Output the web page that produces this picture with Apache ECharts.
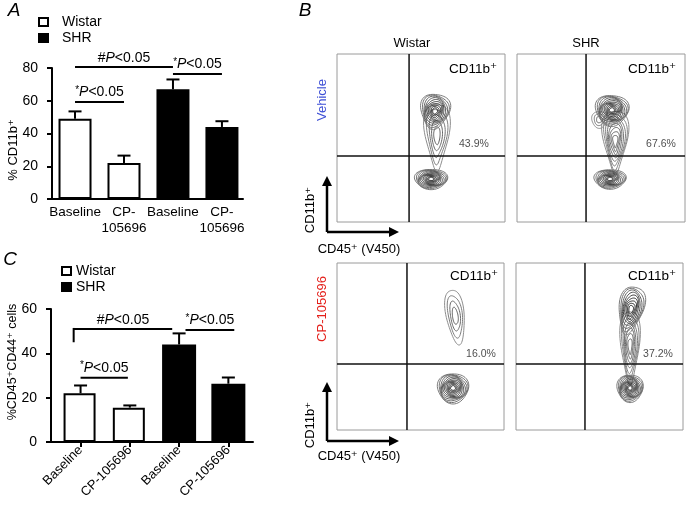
<!DOCTYPE html>
<html><head><meta charset="utf-8">
<script src="https://cdn.jsdelivr.net/npm/echarts@6/dist/echarts.min.js"></script>
<style>html,body{margin:0;padding:0;background:#fff}#c{width:687px;height:507px}</style>
</head><body><div id="c"></div>
<script>
// ---------- DATA ----------
const categoriesA = ['Baseline', 'CP-\n105696', 'Baseline', 'CP-\n105696'];
const categoriesC = ['Baseline', 'CP-105696', 'Baseline', 'CP-105696'];
const groups = ['Wistar', 'SHR'];
const wistarA = [49, 22];      const wistarErrA = [4.5, 4.5];
const shrA = [67, 44];         const shrErrA = [6, 3.5];
const wistarC = [22, 15.5];    const wistarErrC = [3.5, 1];
const shrC = [44, 26.3];       const shrErrC = [5, 2.8];
// significance: [fromX, toX, lineY, dropY|null, prefix]
const sigA = [[0, 2, 80.6, null, '#'], [2, 3, 76.3, null, '*'], [0, 1, 59.2, null, '*']];
const sigC = [[-0.14, 1.86, 51, 45, '#'], [2.13, 3.12, 50.5, null, '*'], [0, 0.96, 29, null, '*']];
// flow panels
const flowCols = ['Wistar', 'SHR'];
const flowRows = ['Vehicle', 'CP-105696'];
const gates = [[42.9, 39.3], [41.1, 39.3], [41.9, 39.5], [41.3, 39.5]];
const pctLabels = ['43.9%', '67.6%', '16.0%', '37.2%'];
const pctPos = [[81.5, 46.4], [85.7, 46.4], [86.2, 45.5], [85, 45.5]];
// contour blobs: [cx, cy, rx, ry, levels, rotationDeg, taper, dark(1)/light(0)]
const contourTL = [[59.5, 51, 7, 20, 5, 0, 0.45, 0], [58.3, 66, 8.5, 10.5, 10, -8, 0.2, 1], [56, 25.6, 9.8, 6, 12, 0, 0, 1]];
const contourTR = [[58.5, 48, 7, 19, 8, 0, 0.5, 0], [49, 61, 4.5, 5, 3, 0, 0, 0], [56.5, 66.5, 9.8, 9.2, 12, -5, 0.1, 1], [55.4, 25.6, 9.5, 5.8, 11, 0, 0, 1]];
const contourBL = [[70.8, 68.2, 5.4, 16.5, 4, 8, 0.1, 0], [69.5, 25.1, 9.3, 9, 12, 0, 0, 1]];
const contourBR = [[68.3, 50, 5.5, 22, 7, 0, 0.4, 0], [68.8, 72, 7.2, 14.5, 9, -12, 0.25, 1], [68.3, 25.1, 7.8, 8.2, 12, 0, 0, 1]];

// ---------- RENDER ----------
const FF = 'Liberation Sans, Arial, DejaVu Sans, sans-serif';
const chart = echarts.init(document.getElementById('c'), null, {renderer: 'canvas'});

function lerpColor(a, b, t) {
  const pa = [parseInt(a.substr(1,2),16), parseInt(a.substr(3,2),16), parseInt(a.substr(5,2),16)];
  const pb = [parseInt(b.substr(1,2),16), parseInt(b.substr(3,2),16), parseInt(b.substr(5,2),16)];
  return 'rgb(' + pa.map((v,i)=>Math.round(v + (pb[i]-v)*t)).join(',') + ')';
}
function renderContour(params, api) {
  const cx = api.value(0), cy = api.value(1), rx = api.value(2), ry = api.value(3);
  const n = api.value(4), rot = api.value(5) * Math.PI / 180, taper = api.value(6), dark = api.value(7);
  const c = api.coord([cx, cy]);
  const s = api.size([rx, ry]);
  const children = [];
  for (let i = 0; i < n; i++) {
    const f = 1 - (i / n) * 0.92;
    const pts = [];
    for (let k = 0; k < 60; k++) {
      const t = k / 60 * Math.PI * 2;
      const w = 1 + 0.06 * Math.sin(3 * t + i * 0.9);
      let x = Math.cos(t) * (1 + taper * Math.sin(t)) * s[0] * f * w;
      let y = Math.sin(t) * s[1] * f * w;
      const xr = x * Math.cos(rot) - y * Math.sin(rot);
      const yr = x * Math.sin(rot) + y * Math.cos(rot);
      pts.push([c[0] + xr, c[1] - yr]);
    }
    const t = n > 1 ? i / (n - 1) : 0;
    const col = dark ? lerpColor('#7a7a7a', '#101010', t) : lerpColor('#8e8e8e', '#5a5a5a', t);
    children.push({type: 'polygon', shape: {points: pts}, style: {fill: 'none', stroke: col, lineWidth: 1}});
  }
  return {type: 'group', children};
}
function renderGate(params, api) {
  const cs = params.coordSys;
  const p = api.coord([api.value(0), api.value(1)]);
  const st = {stroke: '#111', lineWidth: 1.5};
  return {type: 'group', children: [
    {type: 'line', shape: {x1: p[0], y1: cs.y, x2: p[0], y2: cs.y + cs.height}, style: st},
    {type: 'line', shape: {x1: cs.x, y1: p[1], x2: cs.x + cs.width, y2: p[1]}, style: st}
  ]};
}
function renderErr(params, api) {
  const base = api.coord([api.value(0), api.value(1)]);
  const top = api.coord([api.value(0), api.value(1) + api.value(2)]);
  const st = {stroke: '#000', lineWidth: 2};
  return {type: 'group', children: [
    {type: 'line', shape: {x1: base[0], y1: base[1], x2: top[0], y2: top[1]}, style: st},
    {type: 'line', shape: {x1: top[0] - 6.5, y1: top[1], x2: top[0] + 6.5, y2: top[1]}, style: st}
  ]};
}
const sigRich = {
  a: {fontSize: 10, fontFamily: FF, color: '#000', padding: [0, 0, 5, 0]},
  h: {fontSize: 14, fontFamily: FF, color: '#000'},
  i: {fontSize: 14, fontFamily: FF, fontStyle: 'italic', color: '#000'},
  n: {fontSize: 14, fontFamily: FF, color: '#000'}
};
function renderSig(list) {
  return function (params, api) {
    const s = list[params.dataIndex];
    const p1 = api.coord([s[0], s[2]]), p2 = api.coord([s[1], s[2]]);
    const st = {stroke: '#000', lineWidth: 2};
    const ch = [{type: 'line', shape: {x1: p1[0], y1: p1[1], x2: p2[0], y2: p2[1]}, style: st}];
    if (s[3] != null) {
      const p3 = api.coord([s[0], s[3]]);
      ch.push({type: 'line', shape: {x1: p1[0], y1: p1[1] - 1, x2: p1[0], y2: p3[1]}, style: st});
    }
    const txt = (s[4] === '#' ? '{h|#}' : '{a|*}') + '{i|P}{n|<0.05}';
    ch.push({type: 'text', x: (p1[0] + p2[0]) / 2, y: p1[1] - 2,
      style: {text: txt, rich: sigRich, align: 'center', verticalAlign: 'bottom', fill: '#000'}});
    return {type: 'group', children: ch};
  };
}
function pairs(vals, offset) { return vals.map((v, i) => [i + offset, v]); }
function errData(vals, errs, offset) { return vals.map((v, i) => [i + offset, v, errs[i]]); }

const axisBlack = {lineStyle: {color: '#000', width: 2}};
const flowGrids = [
  {left: 337, top: 54, width: 168, height: 168},
  {left: 517, top: 54, width: 168, height: 168},
  {left: 337, top: 263, width: 167, height: 167},
  {left: 516, top: 263, width: 167, height: 167}
];
const contours = [contourTL, contourTR, contourBL, contourBR];

const grid = [
  {left: 52, top: 68, width: 191, height: 131},
  {left: 51, top: 309, width: 202, height: 133}
].concat(flowGrids.map(g => Object.assign({show: true, borderColor: '#9a9a9a', borderWidth: 1}, g)));

const xAxis = [
  {type: 'value', gridIndex: 0, min: -0.47, max: 3.43, axisLine: Object.assign({show: true, onZero: false}, axisBlack),
   axisTick: {show: false}, splitLine: {show: false},
   axisLabel: {customValues: [0, 1, 2, 3], showMinLabel: true, showMaxLabel: true, hideOverlap: false,
     formatter: v => categoriesA[Math.round(v)], color: '#000', fontSize: 13.5, fontFamily: FF, margin: 5, lineHeight: 16, align: 'center'}},
  {type: 'value', gridIndex: 1, min: -0.6, max: 3.5, axisLine: Object.assign({show: true, onZero: false}, axisBlack),
   axisTick: {show: true, customValues: [0, 1, 2, 3], length: 5, lineStyle: {color: '#000', width: 2}}, splitLine: {show: false},
   axisLabel: {customValues: [0, 1, 2, 3], showMinLabel: true, showMaxLabel: true, hideOverlap: false,
     formatter: v => categoriesC[Math.round(v)], rotate: 45, color: '#000', fontSize: 13, fontFamily: FF, margin: 6}}
];
const yAxis = [
  {type: 'value', gridIndex: 0, min: 0, max: 80, interval: 20, axisLine: Object.assign({show: true, onZero: false}, axisBlack),
   axisTick: {show: true, length: 5, lineStyle: {color: '#000', width: 2}}, splitLine: {show: false},
   axisLabel: {color: '#000', fontSize: 14, fontFamily: FF, margin: 14}},
  {type: 'value', gridIndex: 1, min: 0, max: 60, interval: 20, axisLine: Object.assign({show: true, onZero: false}, axisBlack),
   axisTick: {show: true, length: 5, lineStyle: {color: '#000', width: 2}}, splitLine: {show: false},
   axisLabel: {color: '#000', fontSize: 14, fontFamily: FF, margin: 14}}
];
for (let g = 0; g < 4; g++) {
  xAxis.push({type: 'value', gridIndex: g + 2, min: 0, max: 100, show: false});
  yAxis.push({type: 'value', gridIndex: g + 2, min: 0, max: 100, show: false});
}

const barStyleW = {color: '#fff', borderColor: '#000', borderWidth: 2};
const barStyleS = {color: '#000', borderColor: '#000', borderWidth: 2};
const series = [
  {type: 'bar', name: groups[0], xAxisIndex: 0, yAxisIndex: 0, data: pairs(wistarA, 0), barWidth: 33, barGap: '-100%', itemStyle: barStyleW, silent: true},
  {type: 'bar', name: groups[1], xAxisIndex: 0, yAxisIndex: 0, data: pairs(shrA, 2), barWidth: 33, barGap: '-100%', itemStyle: barStyleS, silent: true},
  {type: 'custom', xAxisIndex: 0, yAxisIndex: 0, data: errData(wistarA, wistarErrA, 0).concat(errData(shrA, shrErrA, 2)), renderItem: renderErr, silent: true, z: 5},
  {type: 'custom', xAxisIndex: 0, yAxisIndex: 0, data: sigA.map(s => [s[0], s[2]]), renderItem: renderSig(sigA), silent: true, clip: false, z: 5},
  {type: 'bar', name: groups[0], xAxisIndex: 1, yAxisIndex: 1, data: pairs(wistarC, 0), barWidth: 32, barGap: '-100%', itemStyle: barStyleW, silent: true},
  {type: 'bar', name: groups[1], xAxisIndex: 1, yAxisIndex: 1, data: pairs(shrC, 2), barWidth: 34, barGap: '-100%', itemStyle: barStyleS, silent: true},
  {type: 'custom', xAxisIndex: 1, yAxisIndex: 1, data: errData(wistarC, wistarErrC, 0).concat(errData(shrC, shrErrC, 2)), renderItem: renderErr, silent: true, z: 5},
  {type: 'custom', xAxisIndex: 1, yAxisIndex: 1, data: sigC.map(s => [s[0], s[2]]), renderItem: renderSig(sigC), silent: true, clip: false, z: 5}
];
for (let g = 0; g < 4; g++) {
  series.push({type: 'custom', xAxisIndex: g + 2, yAxisIndex: g + 2, data: contours[g], renderItem: renderContour, silent: true, clip: true});
  series.push({type: 'custom', xAxisIndex: g + 2, yAxisIndex: g + 2, data: [gates[g]], renderItem: renderGate, silent: true, z: 3});
  series.push({type: 'scatter', xAxisIndex: g + 2, yAxisIndex: g + 2, data: [pctPos[g]], symbolSize: 0, silent: true,
    label: {show: true, position: 'inside', formatter: () => pctLabels[g], color: '#222', fontSize: 10.5, fontFamily: FF}});
}

const legendBase = {orient: 'vertical', icon: 'rect', itemWidth: 9, itemHeight: 8, itemGap: 2, selectedMode: false,
  itemStyle: {borderColor: '#000', borderWidth: 2}, data: groups};
const legend = [
  Object.assign({}, legendBase, {left: 33, top: 10, textStyle: {fontSize: 14, fontFamily: FF, color: '#000', padding: [0, 0, 0, 9]}}),
  Object.assign({}, legendBase, {left: 56, top: 259, textStyle: {fontSize: 14, fontFamily: FF, color: '#000', padding: [0, 0, 0, 0]}})
];

function txt(x, y, text, opt) {
  return Object.assign({type: 'text', x, y, style: Object.assign({text, fill: '#000', font: '13px ' + FF, align: 'center', verticalAlign: 'middle'}, opt || {})});
}
function rtxt(x, y, text, color, size) {
  return {type: 'text', x, y, rotation: Math.PI / 2, style: {text, fill: color || '#000', font: (size || 13) + 'px ' + FF, align: 'center', verticalAlign: 'middle'}};
}
function arrow(x0, y0, len, vertical) {
  const st = {stroke: '#000', lineWidth: 2.5};
  if (vertical) {
    return [{type: 'line', shape: {x1: x0, y1: y0, x2: x0, y2: y0 - len + 8}, style: st},
      {type: 'polygon', shape: {points: [[x0 - 5, y0 - len + 10], [x0 + 5, y0 - len + 10], [x0, y0 - len]]}, style: {fill: '#000'}}];
  }
  return [{type: 'line', shape: {x1: x0, y1: y0, x2: x0 + len - 8, y2: y0}, style: st},
    {type: 'polygon', shape: {points: [[x0 + len - 10, y0 - 5], [x0 + len - 10, y0 + 5], [x0 + len, y0]]}, style: {fill: '#000'}}];
}
const cdSup = 'CD11b\u207A';
const graphic = [
  txt(14, 11, 'A', {font: 'italic 19px ' + FF}),
  txt(305, 11, 'B', {font: 'italic 19px ' + FF}),
  txt(10, 260, 'C', {font: 'italic 19px ' + FF}),
  rtxt(13, 150, '% CD11b\u207A', '#000', 13),
  rtxt(13, 362, '%CD45\u207ACD44\u207A cells', '#000', 12.5),
  txt(412, 43, flowCols[0]), txt(586, 43, flowCols[1]),
  rtxt(322, 100, flowRows[0], '#3d4fd6', 13),
  rtxt(322, 309, flowRows[1], '#e41f1a', 13),
  txt(473, 69, cdSup, {font: '13.5px ' + FF}), txt(652, 69, cdSup, {font: '13.5px ' + FF}),
  txt(474, 276, cdSup, {font: '13.5px ' + FF}), txt(652, 276, cdSup, {font: '13.5px ' + FF}),
  rtxt(310, 210, cdSup, '#000', 13), rtxt(310, 425, cdSup, '#000', 13),
  txt(359, 249, 'CD45\u207A (V450)'), txt(359, 456, 'CD45\u207A (V450)')
].concat(arrow(327, 232, 56, true), arrow(327, 232, 72, false), arrow(327, 441, 59, true), arrow(327, 441, 72, false));

chart.setOption({
  animation: false,
  backgroundColor: '#fff',
  textStyle: {fontFamily: FF},
  grid, xAxis, yAxis, series, legend, graphic
});
</script></body></html>
